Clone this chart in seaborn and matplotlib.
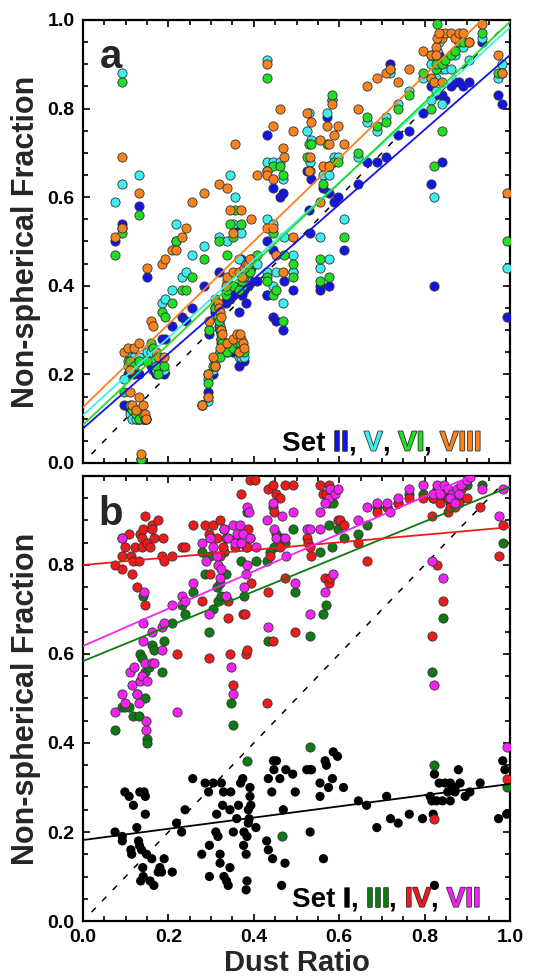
import numpy as np
import pandas as pd
import matplotlib
matplotlib.use("Agg")
import matplotlib.pyplot as plt
import matplotlib.patheffects as pe
from matplotlib.ticker import MultipleLocator
import seaborn as sns

# ---------------- panel a: sets II, V, VI, VIII (shared dust ratios) ----------------
dust_a = [
    0.075, 0.092, 0.092, 0.095, 0.105, 0.110, 0.120, 0.130, 0.130, 0.149,
    0.110, 0.115, 0.125, 0.130, 0.140, 0.145, 0.148, 0.135, 0.160, 0.165,
    0.170, 0.175, 0.185, 0.192, 0.190, 0.208, 0.218, 0.231, 0.240, 0.256,
    0.284, 0.278, 0.292, 0.292, 0.295, 0.310, 0.315, 0.318, 0.320, 0.322,
    0.324, 0.326, 0.305, 0.310, 0.320, 0.318, 0.337, 0.345, 0.352, 0.338,
    0.352, 0.360, 0.365, 0.370, 0.374, 0.378, 0.368, 0.334, 0.338, 0.352,
    0.365, 0.372, 0.378, 0.382, 0.386, 0.390, 0.357, 0.371, 0.393, 0.407,
    0.430, 0.430, 0.430, 0.432, 0.445, 0.445, 0.445, 0.452, 0.461, 0.469,
    0.470, 0.469, 0.491, 0.491, 0.524, 0.530, 0.535, 0.532, 0.555, 0.555,
    0.562, 0.571, 0.575, 0.577, 0.584, 0.587, 0.598, 0.610, 0.645, 0.664,
    0.688, 0.709, 0.720, 0.738, 0.764, 0.795, 0.815, 0.815, 0.822, 0.827,
    0.827, 0.840, 0.840, 0.848, 0.829, 0.862, 0.870, 0.880, 0.890, 0.905,
    0.834, 0.934, 0.972, 0.980, 0.992,
]
set_ii = [
    0.50, 0.54, 0.53, 0.13, 0.20, 0.21, 0.20, 0.58, 0.20, 0.42,
    0.12, 0.11, 0.10, 0.10, 0.10, 0.10, 0.10, 0.01, 0.22, 0.21,
    0.20, 0.21, 0.28, 0.28, 0.20, 0.31, 0.50, 0.33, 0.32, 0.35,
    0.40, 0.13, 0.16, 0.20, 0.29, 0.34, 0.33, 0.31, 0.30, 0.28,
    0.27, 0.26, 0.20, 0.22, 0.25, 0.43, 0.37, 0.37, 0.38, 0.25,
    0.25, 0.25, 0.22, 0.23, 0.24, 0.23, 0.25, 0.36, 0.37, 0.38,
    0.34, 0.38, 0.39, 0.36, 0.40, 0.41, 0.53, 0.46, 0.44, 0.41,
    0.74, 0.50, 0.38, 0.38, 0.62, 0.48, 0.33, 0.32, 0.60, 0.61,
    0.41, 0.30, 0.39, 0.43, 0.66, 0.57, 0.64, 0.52, 0.40, 0.39,
    0.62, 0.78, 0.40, 0.61, 0.82, 0.59, 0.60, 0.48, 0.63, 0.68,
    0.68, 0.69, 0.90, 0.74, 0.75, 0.79, 0.85, 0.63, 0.40, 0.92,
    0.83, 0.68, 0.83, 0.82, 0.92, 0.85, 0.86, 0.86, 0.85, 0.86,
    0.92, 0.95, 0.83, 0.81, 0.33,
]
set_v = [
    0.59, 0.88, 0.63, 0.19, 0.22, 0.24, 0.24, 0.65, 0.24, 0.25,
    0.11, 0.10, 0.10, 0.10, 0.10, 0.10, 0.10, 0.01, 0.25, 0.23,
    0.21, 0.22, 0.36, 0.37, 0.21, 0.39, 0.54, 0.42, 0.43, 0.47,
    0.49, 0.13, 0.14, 0.19, 0.30, 0.35, 0.34, 0.32, 0.31, 0.30,
    0.28, 0.27, 0.21, 0.23, 0.25, 0.51, 0.50, 0.65, 0.54, 0.26,
    0.27, 0.26, 0.24, 0.24, 0.25, 0.24, 0.26, 0.39, 0.41, 0.40,
    0.46, 0.40, 0.41, 0.42, 0.43, 0.44, 0.60, 0.52, 0.45, 0.45,
    0.91, 0.68, 0.55, 0.43, 0.68, 0.54, 0.40, 0.43, 0.68, 0.64,
    0.51, 0.36, 0.43, 0.47, 0.75, 0.79, 0.73, 0.68, 0.51, 0.44,
    0.65, 0.79, 0.46, 0.65, 0.82, 0.69, 0.69, 0.55, 0.69, 0.77,
    0.75, 0.78, 0.88, 0.81, 0.84, 0.87, 0.90, 0.82, 0.60, 0.84,
    0.87, 0.81, 0.89, 0.89, 0.93, 0.89, 0.92, 0.95, 0.94, 0.91,
    0.95, 0.96, 0.87, 0.90, 0.44,
]
set_vi = [
    0.47, 0.86, 0.52, 0.16, 0.23, 0.23, 0.22, 0.56, 0.23, 0.23,
    0.13, 0.12, 0.11, 0.10, 0.11, 0.10, 0.10, 0.01, 0.27, 0.26,
    0.22, 0.20, 0.34, 0.33, 0.22, 0.36, 0.50, 0.39, 0.39, 0.42,
    0.46, 0.13, 0.15, 0.18, 0.30, 0.35, 0.33, 0.32, 0.30, 0.29,
    0.28, 0.27, 0.22, 0.22, 0.24, 0.50, 0.47, 0.54, 0.51, 0.25,
    0.26, 0.27, 0.25, 0.26, 0.26, 0.25, 0.27, 0.38, 0.39, 0.40,
    0.39, 0.41, 0.42, 0.43, 0.44, 0.43, 0.57, 0.54, 0.46, 0.47,
    0.87, 0.66, 0.42, 0.41, 0.67, 0.52, 0.38, 0.39, 0.67, 0.65,
    0.47, 0.32, 0.42, 0.45, 0.69, 0.72, 0.72, 0.66, 0.46, 0.41,
    0.63, 0.72, 0.42, 0.67, 0.83, 0.68, 0.68, 0.51, 0.70, 0.78,
    0.76, 0.77, 0.89, 0.80, 0.83, 0.88, 0.92, 0.80, 0.67, 0.89,
    0.90, 0.75, 0.90, 0.91, 0.99, 0.92, 0.93, 0.95, 0.95, 0.95,
    0.96, 0.97, 0.88, 0.88, 0.50,
]
set_viii = [
    0.51, 0.69, 0.53, 0.25, 0.26, 0.21, 0.26, 0.61, 0.27, 0.44,
    0.16, 0.13, 0.12, 0.15, 0.13, 0.11, 0.10, 0.02, 0.32, 0.31,
    0.25, 0.24, 0.45, 0.46, 0.24, 0.48, 0.48, 0.51, 0.53, 0.59,
    0.61, 0.13, 0.15, 0.20, 0.32, 0.37, 0.36, 0.35, 0.34, 0.33,
    0.30, 0.29, 0.24, 0.22, 0.26, 0.63, 0.62, 0.57, 0.52, 0.27,
    0.28, 0.29, 0.25, 0.28, 0.27, 0.26, 0.29, 0.40, 0.42, 0.43,
    0.43, 0.42, 0.44, 0.45, 0.45, 0.46, 0.72, 0.57, 0.55, 0.65,
    0.90, 0.66, 0.53, 0.65, 0.76, 0.64, 0.53, 0.47, 0.80, 0.71,
    0.69, 0.43, 0.51, 0.75, 0.79, 0.66, 0.77, 0.69, 0.73, 0.59,
    0.67, 0.76, 0.72, 0.67, 0.81, 0.74, 0.76, 0.72, 0.80, 0.85,
    0.87, 0.88, 0.89, 0.86, 0.89, 0.93, 0.92, 0.87, 0.86, 0.94,
    0.92, 0.86, 0.96, 0.97, 0.96, 0.97, 0.96, 0.97, 0.97, 0.95,
    0.97, 0.99, 0.92, 0.88, 0.61,
]

# ---------------- panel b: sets I, III, IV, VII ----------------
set_i_x = [
    0.075, 0.092, 0.092, 0.098, 0.108, 0.112, 0.114, 0.118, 0.126, 0.130,
    0.132, 0.133, 0.135, 0.137, 0.140, 0.141, 0.143, 0.146, 0.146, 0.149,
    0.157, 0.161, 0.166, 0.176, 0.180, 0.184, 0.190, 0.209, 0.219, 0.231,
    0.239, 0.257, 0.278, 0.286, 0.294, 0.296, 0.296, 0.305, 0.311, 0.313,
    0.316, 0.321, 0.321, 0.324, 0.327, 0.329, 0.330, 0.336, 0.340, 0.344,
    0.346, 0.352, 0.344, 0.360, 0.364, 0.369, 0.374, 0.376, 0.377, 0.382,
    0.382, 0.384, 0.387, 0.389, 0.391, 0.391, 0.393, 0.384, 0.387, 0.405,
    0.430, 0.434, 0.434, 0.442, 0.444, 0.446, 0.447, 0.453, 0.461, 0.465,
    0.469, 0.473, 0.475, 0.491, 0.497, 0.524, 0.532, 0.535, 0.532, 0.555,
    0.555, 0.563, 0.567, 0.570, 0.575, 0.584, 0.586, 0.596, 0.610, 0.645,
    0.664, 0.688, 0.711, 0.720, 0.738, 0.764, 0.795, 0.813, 0.817, 0.820,
    0.823, 0.823, 0.828, 0.834, 0.842, 0.848, 0.854, 0.860, 0.864, 0.871,
    0.879, 0.883, 0.895, 0.906, 0.930, 0.973, 0.983, 0.988, 0.992, 0.871,
    0.860,
]
set_i_y = [
    0.20, 0.19, 0.18, 0.29, 0.28, 0.16, 0.15, 0.26, 0.21, 0.18,
    0.17, 0.29, 0.09, 0.16, 0.12, 0.10, 0.29, 0.28, 0.24, 0.15,
    0.09, 0.14, 0.08, 0.11, 0.12, 0.11, 0.14, 0.11, 0.22, 0.20,
    0.25, 0.32, 0.15, 0.31, 0.29, 0.17, 0.10, 0.31, 0.20, 0.24,
    0.19, 0.15, 0.13, 0.31, 0.26, 0.29, 0.10, 0.09, 0.08, 0.25,
    0.29, 0.20, 0.12, 0.23, 0.26, 0.31, 0.32, 0.17, 0.20, 0.15,
    0.07, 0.09, 0.25, 0.23, 0.30, 0.28, 0.26, 0.19, 0.22, 0.21,
    0.18, 0.16, 0.32, 0.29, 0.14, 0.36, 0.34, 0.36, 0.32, 0.08,
    0.25, 0.13, 0.34, 0.33, 0.29, 0.34, 0.34, 0.34, 0.20, 0.31,
    0.28, 0.14, 0.36, 0.35, 0.30, 0.32, 0.38, 0.37, 0.30, 0.27,
    0.26, 0.21, 0.28, 0.23, 0.22, 0.24, 0.23, 0.28, 0.27, 0.24,
    0.33, 0.08, 0.27, 0.31, 0.27, 0.31, 0.29, 0.27, 0.30, 0.29,
    0.34, 0.31, 0.28, 0.29, 0.31, 0.23, 0.36, 0.34, 0.24, 0.30,
    0.31,
]
set_iii_x = [
    0.075, 0.092, 0.098, 0.108, 0.118, 0.126, 0.132, 0.133, 0.137, 0.141,
    0.144, 0.146, 0.149, 0.149, 0.155, 0.161, 0.166, 0.184, 0.190, 0.209,
    0.231, 0.239, 0.257, 0.278, 0.286, 0.294, 0.297, 0.305, 0.313, 0.316,
    0.321, 0.324, 0.329, 0.336, 0.346, 0.352, 0.369, 0.377, 0.381, 0.384,
    0.392, 0.384, 0.405, 0.430, 0.434, 0.444, 0.447, 0.453, 0.465, 0.473,
    0.491, 0.497, 0.438, 0.465, 0.532, 0.555, 0.563, 0.570, 0.577, 0.584,
    0.586, 0.575, 0.596, 0.610, 0.532, 0.645, 0.664, 0.688, 0.711, 0.738,
    0.764, 0.795, 0.817, 0.842, 0.820, 0.830, 0.835, 0.845, 0.855, 0.865,
    0.875, 0.885, 0.900, 0.860, 0.870, 0.880, 0.823, 0.934, 0.983, 0.992,
]
set_iii_y = [
    0.43, 0.48, 0.48, 0.48, 0.46, 0.51, 0.46, 0.60, 0.59, 0.73,
    0.50, 0.56, 0.41, 0.40, 0.57, 0.62, 0.61, 0.56, 0.63, 0.67,
    0.71, 0.69, 0.74, 0.83, 0.78, 0.65, 0.82, 0.70, 0.75, 0.72,
    0.76, 0.73, 0.83, 0.78, 0.49, 0.44, 0.81, 0.73, 0.84, 0.92,
    0.86, 0.36, 0.81, 0.81, 0.63, 0.93, 0.84, 0.87, 0.86, 0.85,
    0.88, 0.74, 0.83, 0.19, 0.64, 0.83, 0.69, 0.71, 0.94, 0.84,
    0.94, 0.89, 0.88, 0.86, 0.39, 0.87, 0.89, 0.93, 0.93, 0.94,
    0.96, 0.96, 0.56, 0.68, 0.95, 0.96, 0.95, 0.97, 0.96, 0.96,
    0.96, 0.97, 0.98, 0.94, 0.95, 0.95, 0.35, 0.98, 0.85, 0.30,
]
set_iv_x = [
    0.075, 0.092, 0.092, 0.098, 0.092, 0.108, 0.112, 0.114, 0.118, 0.122,
    0.126, 0.130, 0.133, 0.137, 0.137, 0.141, 0.146, 0.144, 0.149, 0.157,
    0.161, 0.161, 0.166, 0.176, 0.184, 0.187, 0.190, 0.209, 0.219, 0.231,
    0.239, 0.257, 0.278, 0.286, 0.294, 0.296, 0.297, 0.305, 0.313, 0.321,
    0.321, 0.327, 0.329, 0.335, 0.340, 0.344, 0.352, 0.356, 0.360, 0.369,
    0.374, 0.379, 0.382, 0.384, 0.384, 0.391, 0.403, 0.387, 0.393, 0.340,
    0.434, 0.434, 0.446, 0.447, 0.453, 0.461, 0.473, 0.491, 0.430, 0.446,
    0.473, 0.497, 0.461, 0.438, 0.524, 0.528, 0.532, 0.535, 0.555, 0.567,
    0.575, 0.575, 0.578, 0.596, 0.602, 0.610, 0.561, 0.570, 0.645, 0.664,
    0.688, 0.711, 0.738, 0.764, 0.795, 0.817, 0.817, 0.828, 0.842, 0.854,
    0.820, 0.830, 0.835, 0.845, 0.855, 0.865, 0.875, 0.885, 0.900, 0.860,
    0.870, 0.880, 0.823, 0.930, 0.973, 0.983, 0.992,
]
set_iv_y = [
    0.80, 0.79, 0.82, 0.84, 0.86, 0.87, 0.82, 0.78, 0.81, 0.84,
    0.75, 0.81, 0.87, 0.86, 0.84, 0.88, 0.91, 0.71, 0.85, 0.84,
    0.89, 0.88, 0.86, 0.90, 0.82, 0.86, 0.81, 0.82, 0.60, 0.84,
    0.84, 0.89, 0.72, 0.89, 0.87, 0.59, 0.78, 0.89, 0.86, 0.90,
    0.82, 0.84, 0.88, 0.86, 0.68, 0.60, 0.53, 0.84, 0.86, 0.96,
    0.69, 0.69, 0.60, 0.61, 0.84, 0.99, 0.99, 0.88, 0.76, 0.72,
    0.74, 0.97, 0.98, 0.92, 0.96, 0.95, 0.98, 0.98, 0.49, 0.63,
    0.77, 0.65, 0.84, 0.82, 0.86, 0.85, 0.84, 0.82, 0.98, 0.77,
    0.98, 0.76, 0.77, 0.90, 0.90, 0.89, 0.96, 0.96, 0.85, 0.81,
    0.92, 0.93, 0.94, 0.95, 0.95, 0.91, 0.64, 0.80, 0.72, 0.92,
    0.95, 0.97, 0.94, 0.96, 0.95, 0.94, 0.95, 0.97, 0.95, 0.93,
    0.93, 0.94, 0.23, 0.93, 0.82, 0.89, 0.32,
]
set_vii_x = [
    0.075, 0.092, 0.092, 0.098, 0.110, 0.114, 0.120, 0.126, 0.132, 0.133,
    0.137, 0.141, 0.143, 0.140, 0.146, 0.147, 0.147, 0.149, 0.161, 0.161,
    0.166, 0.184, 0.184, 0.190, 0.209, 0.219, 0.231, 0.239, 0.257, 0.278,
    0.288, 0.294, 0.297, 0.305, 0.313, 0.316, 0.321, 0.324, 0.330, 0.336,
    0.340, 0.346, 0.352, 0.352, 0.356, 0.361, 0.367, 0.370, 0.375, 0.377,
    0.381, 0.384, 0.388, 0.392, 0.384, 0.405, 0.430, 0.434, 0.444, 0.447,
    0.453, 0.465, 0.473, 0.475, 0.491, 0.497, 0.524, 0.532, 0.532, 0.555,
    0.567, 0.575, 0.578, 0.586, 0.590, 0.598, 0.555, 0.567, 0.645, 0.664,
    0.688, 0.711, 0.720, 0.738, 0.764, 0.795, 0.817, 0.823, 0.842, 0.820,
    0.830, 0.835, 0.845, 0.855, 0.865, 0.875, 0.885, 0.900, 0.860, 0.870,
    0.880, 0.906, 0.934, 0.973, 0.983, 0.992,
]
set_vii_y = [
    0.47, 0.86, 0.51, 0.49, 0.56, 0.53, 0.57, 0.51, 0.49, 0.54,
    0.55, 0.63, 0.74, 0.67, 0.58, 0.45, 0.43, 0.54, 0.65, 0.58,
    0.58, 0.66, 0.61, 0.67, 0.71, 0.47, 0.73, 0.72, 0.76, 0.85,
    0.81, 0.69, 0.86, 0.84, 0.82, 0.80, 0.77, 0.79, 0.88, 0.73,
    0.86, 0.57, 0.51, 0.89, 0.85, 0.87, 0.89, 0.85, 0.87, 0.75,
    0.78, 0.93, 0.92, 0.86, 0.80, 0.84, 0.90, 0.66, 0.94, 0.88,
    0.86, 0.91, 0.86, 0.82, 0.92, 0.76, 0.88, 0.88, 0.69, 0.92,
    0.74, 0.95, 0.97, 0.78, 0.96, 0.97, 0.88, 0.94, 0.90, 0.93,
    0.94, 0.94, 0.92, 0.95, 0.97, 0.98, 0.81, 0.53, 0.77, 0.96,
    0.98, 0.96, 0.98, 0.97, 0.96, 0.97, 0.98, 0.99, 0.95, 0.94,
    0.96, 0.998, 0.97, 0.91, 0.97, 0.39,
]

# linear fits (intercept, slope) for each set
fit_a = {"II": (0.078, 0.843), "V": (0.108, 0.875), "VI": (0.086, 0.910), "VIII": (0.126, 0.936)}
fit_b = {"I": (0.182, 0.126), "III": (0.584, 0.392), "IV": (0.800, 0.085), "VII": (0.618, 0.420)}
one_to_one = [0.02, 0.98]

colors = {
    "I": "#000000", "II": "#1414e6", "III": "#0e7a12", "IV": "#ee1b1b",
    "V": "#3deeee", "VI": "#22dd22", "VII": "#f522f5", "VIII": "#f7821e",
}

sns.set_theme(style="ticks")
plt.rcParams["font.family"] = ["Liberation Sans", "DejaVu Sans"]
plt.rcParams["font.weight"] = "bold"

fig = plt.figure(figsize=(5.44, 9.8), dpi=100)
ax_a = fig.add_axes([0.1526, 0.5276, 0.785, 0.452])
ax_b = fig.add_axes([0.1526, 0.0602, 0.785, 0.4541])


def scatter(ax, x, y, name, edge=True):
    df = pd.DataFrame({"dust": x, "frac": y})
    sns.scatterplot(data=df, x="dust", y="frac", ax=ax, s=44,
                    color=colors[name], edgecolor="#333333" if edge else "none",
                    linewidth=0.6 if edge else 0, zorder=3, legend=False)


def fit_line(ax, name, coef):
    b0, b1 = coef
    xs = np.array([0.0, 1.0])
    sns.lineplot(x=xs, y=b0 + b1 * xs, ax=ax, color=colors[name], lw=1.3,
                 zorder=4, legend=False)


def diag(ax):
    sns.lineplot(x=one_to_one, y=one_to_one, ax=ax, color="black", lw=1.1,
                 zorder=2, legend=False)
    ax.lines[-1].set_dashes([4, 6])


def style(ax, show_x):
    ax.set_xlim(0, 1)
    ax.set_ylim(0, 1)
    ax.xaxis.set_major_locator(MultipleLocator(0.2))
    ax.yaxis.set_major_locator(MultipleLocator(0.2))
    ax.xaxis.set_minor_locator(MultipleLocator(0.05))
    ax.yaxis.set_minor_locator(MultipleLocator(0.05))
    ax.tick_params(which="both", direction="in", top=True, right=True,
                   width=1.2, colors="black", labelsize=14, pad=6)
    ax.tick_params(which="major", length=5)
    ax.tick_params(which="minor", length=3.5)
    for sp in ax.spines.values():
        sp.set_linewidth(1.6)
        sp.set_color("black")
    ticks = [0, 0.2, 0.4, 0.6, 0.8, 1.0]
    labels = ["0.0", "0.2", "0.4", "0.6", "0.8", "1.0"]
    ax.set_yticks(ticks)
    ax.set_yticklabels(labels, fontweight="bold")
    ax.set_xticks(ticks)
    if show_x:
        ax.set_xticklabels(labels, fontweight="bold")
        ax.set_xlabel("Dust Ratio", fontsize=21, fontweight="bold", labelpad=2)
    else:
        ax.set_xticklabels([])
        ax.set_xlabel("")
    ax.set_ylabel("Non-spherical Fraction", fontsize=22, fontweight="bold", labelpad=5)


def set_label(ax, x0, y0, parts):
    # lay the coloured pieces of the set label out left to right on one baseline
    renderer = fig.canvas.get_renderer()
    inv = ax.transAxes.inverted()
    x = x0
    for text, name in parts:
        kw = dict(fontsize=20, fontweight="bold", color=colors[name] if name else "black",
                  va="baseline", ha="left", zorder=6, transform=ax.transAxes)
        if name:
            kw["path_effects"] = [pe.withStroke(linewidth=1.2, foreground="#333333")]
        t = ax.text(x, y0, text, **kw)
        bb = t.get_window_extent(renderer=renderer)
        x = inv.transform((bb.x1, bb.y0))[0]


# panel a
diag(ax_a)
for name, ys in [("II", set_ii), ("V", set_v), ("VI", set_vi), ("VIII", set_viii)]:
    scatter(ax_a, dust_a, ys, name)
for name, coef in fit_a.items():
    fit_line(ax_a, name, coef)
style(ax_a, show_x=False)
ax_a.text(0.04, 0.892, "a", transform=ax_a.transAxes, fontsize=29, fontweight="bold", va="baseline")
set_label(ax_a, 0.466, 0.028, [("Set ", None), ("II", "II"), (", ", None), ("V", "V"),
                               (", ", None), ("VI", "VI"), (", ", None), ("VIII", "VIII")])

# panel b
diag(ax_b)
scatter(ax_b, set_i_x, set_i_y, "I", edge=False)
scatter(ax_b, set_iii_x, set_iii_y, "III")
scatter(ax_b, set_iv_x, set_iv_y, "IV")
scatter(ax_b, set_vii_x, set_vii_y, "VII")
for name, coef in fit_b.items():
    fit_line(ax_b, name, coef)
style(ax_b, show_x=True)
ax_b.set_yticklabels(["0.0", "0.2", "0.4", "0.6", "0.8", ""], fontweight="bold")
ax_b.text(0.035, 0.89, "b", transform=ax_b.transAxes, fontsize=29, fontweight="bold", va="baseline")
set_label(ax_b, 0.489, 0.032, [("Set ", None), ("I", "I"), (", ", None), ("III", "III"),
                               (", ", None), ("IV", "IV"), (", ", None), ("VII", "VII")])

fig.savefig("out.png", dpi=100)
